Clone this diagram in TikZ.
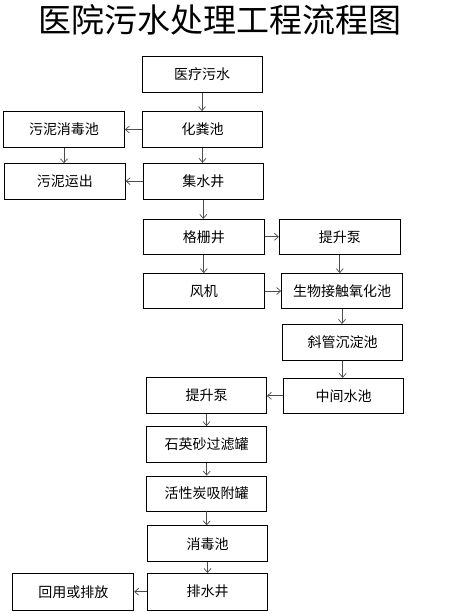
\documentclass[tikz,border=0pt]{standalone}
\usepackage{fontspec}
\setmainfont{Noto Sans CJK SC}
\usetikzlibrary{arrows.meta}
\begin{document}
\begin{tikzpicture}[x=1pt,y=-1pt,
  box/.style={draw=black,line width=0.8pt,minimum width=120pt,minimum height=36pt,inner sep=0pt,font=\fontsize{14}{14}\selectfont},
  flow/.style={draw=black!70,line width=0.7pt,-{Straight Barb[length=4pt,width=7pt]}}]
\useasboundingbox (0,0) rectangle (451,614);
\node (title) at (220,20) {\fontsize{33}{33}\selectfont 医院污水处理工程流程图};
\node[box] (a) at (202,74.5) {医疗污水};
\node[box] (b) at (202.5,129.5) {化粪池};
\node[box,minimum width=121pt] (c) at (64,129.5) {污泥消毒池};
\node[box,minimum width=121pt] (d) at (64.8,181.7) {污泥运出};
\node[box] (e) at (203.3,181.2) {集水井};
\node[box,minimum width=121pt,minimum height=35pt] (f) at (203.8,236.8) {格栅井};
\node[box,minimum width=121pt,minimum height=35pt] (g) at (339.8,236.8) {提升泵};
\node[box,minimum width=121pt,minimum height=35pt] (h) at (203.8,291) {风机};
\node[box,minimum width=121pt,minimum height=35pt] (i) at (342,291) {生物接触氧化池};
\node[box] (j) at (342.7,342.3) {斜管沉淀池};
\node[box,minimum height=35pt] (k) at (343.7,395.8) {中间水池};
\node[box] (l) at (206.5,395.3) {提升泵};
\node[box] (m) at (206.7,444.5) {石英砂过滤罐};
\node[box,minimum height=35pt] (n) at (206.7,493.5) {活性炭吸附罐};
\node[box] (o) at (207.5,543.7) {消毒池};
\node[box,minimum height=36.7pt] (p) at (207.5,591.7) {排水井};
\node[box,minimum width=121pt,minimum height=36.7pt] (q) at (73.3,591.7) {回用或排放};
% vertical flows
\draw[flow] (a.south) -- (a.south |- b.north);
\draw[flow] (b.south) -- (b.south |- e.north);
\draw[flow] (c.south) -- (c.south |- d.north);
\draw[flow] (e.south) -- (e.south |- f.north);
\draw[flow] (f.south) -- (f.south |- h.north);
\draw[flow] (g.south) -- (g.south |- i.north);
\draw[flow] (i.south) -- (i.south |- j.north);
\draw[flow] (j.south) -- (j.south |- k.north);
\draw[flow] (l.south) -- (l.south |- m.north);
\draw[flow] (m.south) -- (m.south |- n.north);
\draw[flow] (n.south) -- (n.south |- o.north);
\draw[flow] (o.south) -- (o.south |- p.north);
% horizontal flows
\draw[flow] (b.west) -- (b.west -| c.east);
\draw[flow] (e.west) -- (e.west -| d.east);
\draw[flow] (f.east) -- (f.east -| g.west);
\draw[flow] (h.east) -- (h.east -| i.west);
\draw[flow] (k.west) -- (k.west -| l.east);
\draw[flow] (p.west) -- (p.west -| q.east);
\end{tikzpicture}
\end{document}
